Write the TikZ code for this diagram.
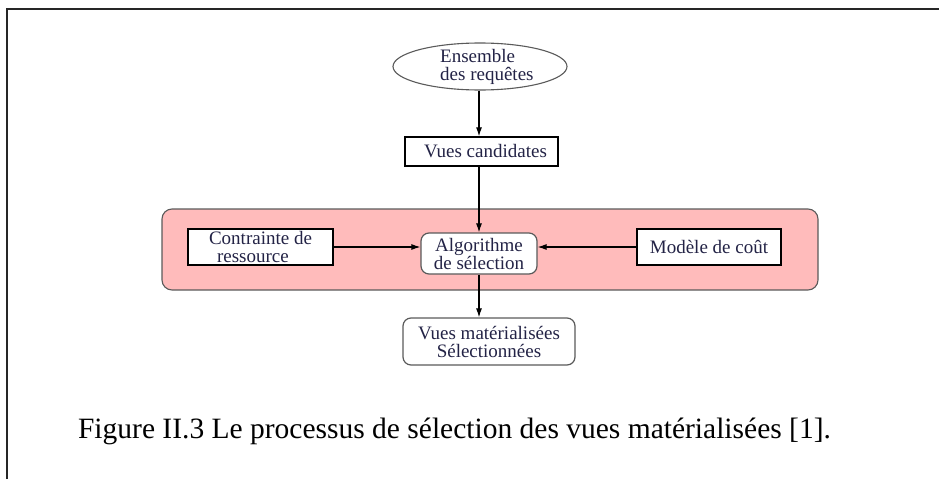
\documentclass[tikz,border=0pt]{standalone}
\usepackage{fontspec}
\setmainfont{Liberation Serif}
\usetikzlibrary{shapes.geometric,arrows.meta}
\definecolor{pinkbg}{RGB}{255,187,187}
\definecolor{txt}{RGB}{35,35,70}
\definecolor{edge}{RGB}{90,90,90}
\begin{document}
\begin{tikzpicture}[x=1pt,y=-1pt,
  nodefont/.style={font=\fontsize{19}{18}\selectfont,text=txt,align=center,inner sep=0pt},
  sqbox/.style={nodefont,draw=black,line width=1.3pt,fill=white},
  rbox/.style={nodefont,draw=edge,line width=1.2pt,fill=white,rounded corners=8pt},
  ellbox/.style={ellipse,draw=edge,line width=1.1pt,fill=white,inner sep=0pt},
  flow/.style={draw=black,line width=1.1pt,-{Latex[length=9pt,width=6pt]}}
]
\useasboundingbox (0,0) rectangle (939,479);
% frame
\draw[line width=1.8pt,black!85] (7,479) -- (7,9) -- (939,9);
% pink band
\draw[edge,line width=1.1pt,fill=pinkbg,rounded corners=10pt] (162,209) rectangle (818,290);
% nodes
\node[ellbox,minimum width=174pt,minimum height=47pt] (ens) at (480,66.5) {};
\node[nodefont,align=left,anchor=west] (enstxt) at (440,67) {Ensemble\\des requêtes};
\node[sqbox,minimum width=153pt,minimum height=29pt] (vc) at (481.5,151.5) {\hspace*{8pt}Vues candidates};
\node[sqbox,minimum width=145pt,minimum height=36pt,align=left] (cr) at (260.5,247) {Contrainte de\\\hspace*{8pt}ressource};
\node[rbox,minimum width=116pt,minimum height=41pt] (alg) at (479,253.5) {Algorithme\\de sélection};
\node[sqbox,minimum width=144pt,minimum height=36pt] (mc) at (709,247) {Modèle de coût};
\node[rbox,minimum width=172pt,minimum height=47pt] (vm) at (489,341.5) {Vues matérialisées\\Sélectionnées};
\node[font=\fontsize{29.5}{31}\selectfont,inner sep=0pt,anchor=base] (cap) at (454.5,438) {Figure II.3 Le processus de sélection des vues matérialisées [1].};
% connectors
\draw[flow] (ens.south -| alg.north) -- (vc.north -| alg.north);
\draw[flow] (vc.south -| alg.north) -- (alg.north);
\draw[flow] (cr.east) -- (cr.east -| alg.west);
\draw[flow] (mc.west) -- (mc.west -| alg.east);
\draw[flow] (alg.south) -- (alg.south |- vm.north);
\end{tikzpicture}
\end{document}
